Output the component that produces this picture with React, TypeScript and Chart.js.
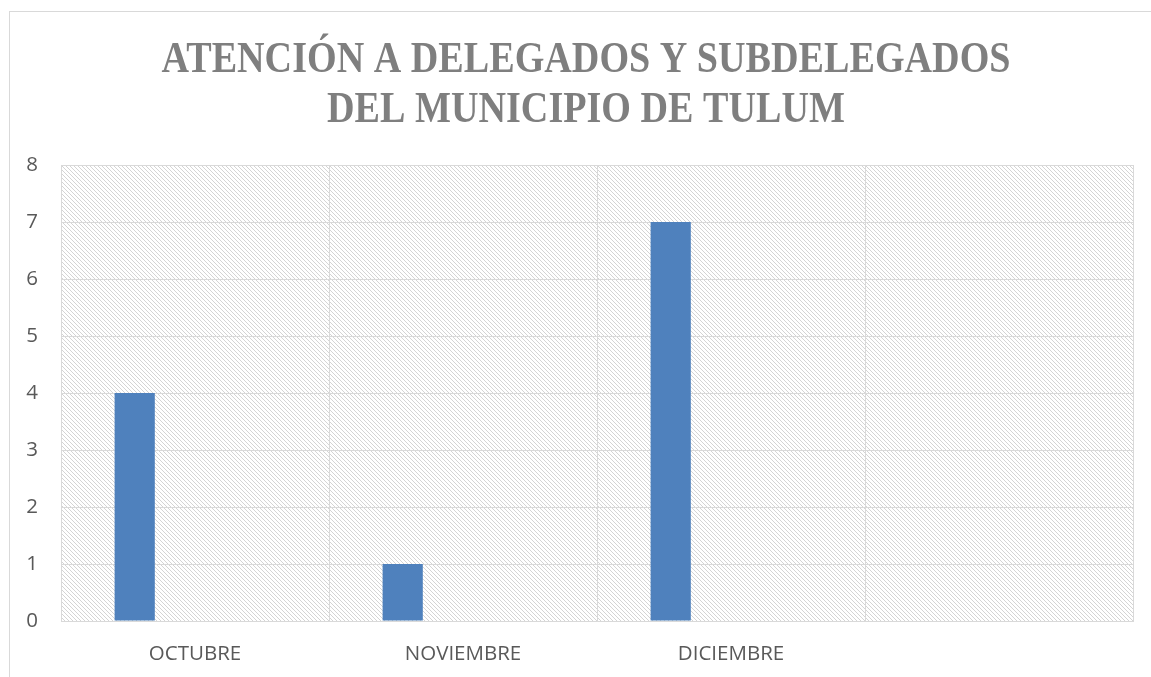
import React, { useEffect, useRef } from "react";
import { Chart, registerables } from "chart.js";

Chart.register(...registerables);

const titleLines = ["ATENCIÓN A DELEGADOS Y SUBDELEGADOS", "DEL MUNICIPIO DE TULUM"];
const categories = ["OCTUBRE", "NOVIEMBRE", "DICIEMBRE", ""];
const serie1 = [4, 1, 7, null];
const serie2 = [null, null, null, null];
const serie3 = [null, null, null, null];
const serie4 = [null, null, null, null];
const yMin = 0;
const yMax = 8;
const yStep = 1;

function makeHatch(ctx: CanvasRenderingContext2D): CanvasPattern | string {
  const c = document.createElement("canvas");
  c.width = 4;
  c.height = 4;
  const g = c.getContext("2d");
  if (!g) return "#ffffff";
  g.fillStyle = "#ffffff";
  g.fillRect(0, 0, 4, 4);
  g.fillStyle = "#d4d4d4";
  for (let i = 0; i < 4; i++) g.fillRect(i, i, 1, 1);
  const p = ctx.createPattern(c, "repeat");
  return p || "#ffffff";
}

const bgPlugin = {
  id: "bgPlugin",
  beforeDraw(chart: any) {
    const { ctx, chartArea } = chart;
    ctx.save();
    ctx.fillStyle = "#ffffff";
    ctx.fillRect(0, 0, chart.width, chart.height);
    ctx.strokeStyle = "#d9d9d9";
    ctx.lineWidth = 1;
    ctx.strokeRect(9.5, 11.5, 1400, 1000);
    ctx.fillStyle = makeHatch(ctx);
    ctx.fillRect(chartArea.left, chartArea.top, chartArea.right - chartArea.left, chartArea.bottom - chartArea.top);
    ctx.restore();
  },
  afterDraw(chart: any) {
    const { ctx } = chart;
    ctx.save();
    ctx.font = "bold 44px 'Liberation Serif', serif";
    ctx.fillStyle = "#7f7f7f";
    ctx.textAlign = "center";
    ctx.textBaseline = "alphabetic";
    const w = ctx.measureText(titleLines[0]).width;
    const sx = 849 / w;
    ctx.translate(586, 0);
    ctx.scale(sx, 1);
    ctx.fillText(titleLines[0], 0, 72);
    ctx.fillText(titleLines[1], 0, 122);
    ctx.restore();
  },
};

export default function App() {
  const ref = useRef<HTMLCanvasElement | null>(null);
  useEffect(() => {
    if (!ref.current) return;
    const chart = new Chart(ref.current, {
      type: "bar",
      data: {
        labels: categories,
        datasets: [
          { label: "Serie 1", data: serie1, backgroundColor: "#4f81bd" },
          { label: "Serie 2", data: serie2, backgroundColor: "#c0504d" },
          { label: "Serie 3", data: serie3, backgroundColor: "#9bbb59" },
          { label: "Serie 4", data: serie4, backgroundColor: "#8064a2" },
        ],
      },
      options: {
        animation: false,
        responsive: true,
        maintainAspectRatio: false,
        datasets: { bar: { categoryPercentage: 0.6, barPercentage: 1.0 } },
        layout: { padding: { left: 0, right: 18, top: 165, bottom: 0 } },
        plugins: {
          legend: { display: false },
          tooltip: { enabled: false },
          title: { display: false },
        },
        scales: {
          x: {
            grid: { color: "#d9d9d9", drawTicks: false, offset: true },
            border: { color: "#d9d9d9" },
            ticks: { color: "#595959", font: { family: "'Open Sans', sans-serif", size: 20.5 }, padding: 21, maxRotation: 0 },
            afterFit(scale: any) {
              scale.height = 56;
            },
          },
          y: {
            min: yMin,
            max: yMax,
            grid: { color: "#d9d9d9", drawTicks: false },
            border: { color: "#d9d9d9" },
            ticks: { stepSize: yStep, color: "#595959", font: { family: "'Open Sans', sans-serif", size: 20.5 }, padding: 23 },
            afterFit(scale: any) {
              scale.width = 61;
            },
          },
        },
      },
      plugins: [bgPlugin],
    });
    return () => chart.destroy();
  }, []);
  return (
    <div style={{ position: "absolute", left: 0, top: 0, width: 1151, height: 677 }}>
      <canvas ref={ref} />
    </div>
  );
}
